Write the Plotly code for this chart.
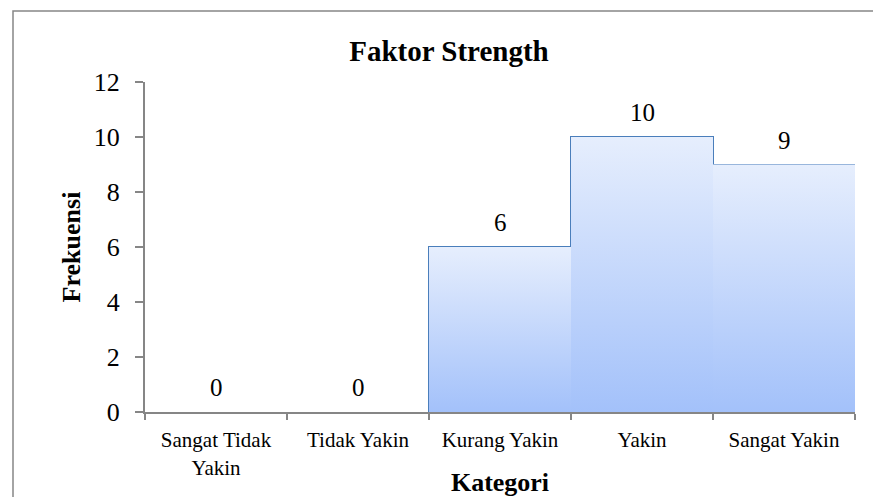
import plotly.graph_objects as go

categories = ["Sangat Tidak<br>Yakin", "Tidak Yakin", "Kurang Yakin", "Yakin", "Sangat Yakin"]
frekuensi = [0, 0, 6, 10, 9]
y_ticks = [0, 2, 4, 6, 8, 10, 12]

FONT = "Liberation Serif, Times New Roman, serif"
EDGE = "#4a7ebb"
AXIS = "#868686"

idx = list(range(len(categories)))

fig = go.Figure()

# gradient fill per bar (Excel style: light at top, darker blue at bottom)
for i, v in zip(idx, frekuensi):
    if v <= 0:
        continue
    fig.add_trace(go.Scatter(
        x=[i - 0.5, i + 0.5, i + 0.5, i - 0.5, i - 0.5],
        y=[0, 0, v, v, 0],
        mode="lines",
        fill="toself",
        fillgradient=dict(type="vertical",
                          colorscale=[[0, "#a3c1fa"], [1, "#e6eefd"]]),
        line=dict(width=0),
        showlegend=False,
        hoverinfo="skip",
    ))

# outline (no outline for empty bars)
fig.add_trace(go.Bar(
    x=idx,
    y=frekuensi,
    width=1,
    marker=dict(color="rgba(0,0,0,0)",
                line=dict(color=[EDGE if v > 0 else "rgba(0,0,0,0)" for v in frekuensi],
                          width=2)),
    showlegend=False,
))

# value labels above bars
for i, v in zip(idx, frekuensi):
    fig.add_annotation(x=i, y=v, text=str(v), showarrow=False,
                       yanchor="bottom", yshift=9,
                       font=dict(family=FONT, size=25, color="black"))

L, R, T, B = 145, 18, 82, 85
W, H = 873, 497
pw, ph = W - L - R, H - T - B

def px_x(px):
    return (px - L) / pw

def px_y(py):
    return (H - B - py) / ph

fig.add_shape(type="rect", xref="paper", yref="paper",
              x0=px_x(13), y0=px_y(520), x1=px_x(890), y1=px_y(11),
              line=dict(color=AXIS, width=1.5), fillcolor="rgba(0,0,0,0)", layer="below")

fig.update_layout(
    width=W, height=H,
    margin=dict(l=L, r=R, t=T, b=B, autoexpand=False),
    paper_bgcolor="white",
    plot_bgcolor="white",
    font=dict(family=FONT, color="black"),
    title=dict(text="<b>Faktor Strength</b>", x=449 / W, xanchor="center",
               y=(H - 51) / H, yanchor="middle",
               font=dict(family=FONT, size=29, color="black")),
    bargap=0,
    xaxis=dict(
        range=[-0.5, 4.5],
        automargin=False,
        tickvals=idx,
        ticktext=categories,
        ticks="",
        ticklabelstandoff=8,
        tickfont=dict(family=FONT, size=21, color="black"),
        showline=True, linecolor=AXIS, linewidth=2,
        showgrid=False, zeroline=False,
        minor=dict(tickvals=[i - 0.5 for i in idx] + [4.5], ticks="outside",
                   ticklen=6, tickcolor=AXIS, tickwidth=2),
        title=dict(text="<b>Kategori</b>", font=dict(family=FONT, size=26), standoff=5),
    ),
    yaxis=dict(
        range=[0, 12],
        automargin=False,
        tickvals=y_ticks,
        ticks="outside", ticklen=8, tickcolor=AXIS, tickwidth=2,
        ticklabelstandoff=10,
        tickfont=dict(family=FONT, size=26, color="black"),
        showline=True, linecolor=AXIS, linewidth=2,
        showgrid=False, zeroline=False,
        title=dict(text="<b>Frekuensi</b>", font=dict(family=FONT, size=26), standoff=6),
    ),
)

fig.write_html("out.html", config={"displayModeBar": False},
               post_script="document.body.style.margin='0';")
